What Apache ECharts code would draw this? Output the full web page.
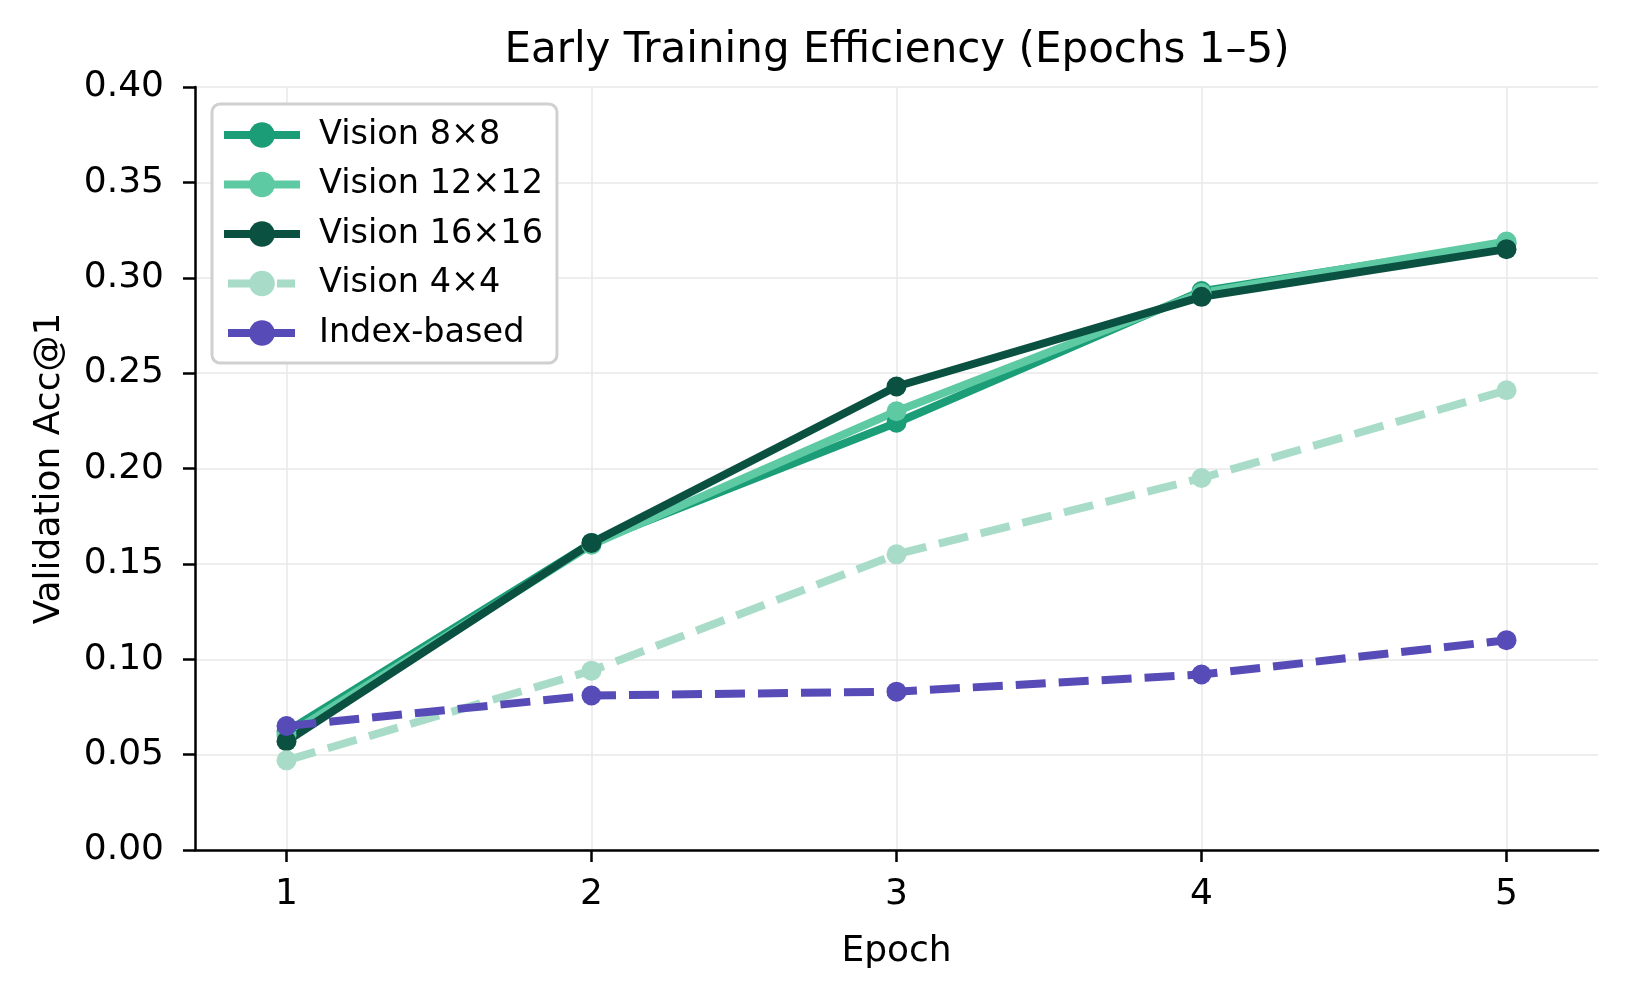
<!DOCTYPE html>
<html>
<head>
<meta charset="utf-8">
<script src="https://cdn.jsdelivr.net/npm/echarts@6/dist/echarts.min.js"></script>
<style>
html,body{margin:0;padding:0;background:#fff;}
#chart{width:1629px;height:998px;}
</style>
</head>
<body>
<div id="chart"></div>
<script>
const epochs = [1, 2, 3, 4, 5];
const vision8 = [0.062, 0.161, 0.224, 0.293, 0.318];
const vision12 = [0.060, 0.160, 0.230, 0.292, 0.319];
const vision16 = [0.057, 0.161, 0.243, 0.290, 0.315];
const vision4 = [0.047, 0.094, 0.155, 0.195, 0.241];
const indexBased = [0.065, 0.081, 0.083, 0.092, 0.110];
const yTicks = [0, 0.05, 0.10, 0.15, 0.20, 0.25, 0.30, 0.35, 0.40];

const FONT = '"DejaVu Sans", sans-serif';
const LW = 8;
const SYM = 20;

function mk(name, vals, color, dashed) {
  return {
    name: name,
    type: 'line',
    data: epochs.map((e, i) => [e, vals[i]]),
    symbol: 'circle',
    symbolSize: SYM,
    showSymbol: true,
    color: color,
    itemStyle: { color: color, borderWidth: 0 },
    lineStyle: { color: color, width: LW, type: dashed ? [30, 13] : 'solid', cap: 'butt', join: 'round' },
    emphasis: { disabled: true },
    animation: false
  };
}

const chart = echarts.init(document.getElementById('chart'), null, { renderer: 'canvas' });
chart.setOption({
  backgroundColor: '#ffffff',
  animation: false,
  textStyle: { fontFamily: FONT },
  title: {
    text: 'Early Training Efficiency (Epochs 1\u20135)',
    left: 897,
    top: 30,
    textAlign: 'center',
    padding: 0,
    textStyle: { fontFamily: FONT, fontSize: 42, fontWeight: 'normal', color: '#000' }
  },
  grid: { left: 195, right: 31, top: 87, bottom: 148, containLabel: false },
  legend: {
    orient: 'vertical',
    left: 212,
    top: 104,
    padding: [13, 14, 12, 8],
    itemWidth: 76,
    itemHeight: 32,
    itemGap: 13.5,
    backgroundColor: '#ffffff',
    borderColor: '#d0d0d0',
    borderWidth: 3,
    borderRadius: 8,
    lineStyle: { width: 8 },
    textStyle: { fontFamily: FONT, fontSize: 33.5, color: '#000', lineHeight: 36, padding: [0, 0, 0, 14] },
    data: [
      'Vision 8\u00d78',
      'Vision 12\u00d712',
      'Vision 16\u00d716',
      { name: 'Vision 4\u00d74', lineStyle: { width: 8, type: [0, 4, 44, 5, 18, 100] } },
      { name: 'Index-based', lineStyle: { width: 8, type: [0, 4, 67, 100] } }
    ]
  },
  xAxis: {
    type: 'value',
    min: 0.7,
    max: 5.3,
    name: 'Epoch',
    nameLocation: 'middle',
    nameGap: 84,
    nameTextStyle: { fontFamily: FONT, fontSize: 36, color: '#000' },
    axisLine: { show: true, onZero: false, lineStyle: { color: '#000', width: 2.5 } },
    axisTick: { show: true, inside: false, length: 12, customValues: epochs, lineStyle: { color: '#000', width: 2.5 } },
    axisLabel: { customValues: epochs, margin: 27, fontFamily: FONT, fontSize: 36, color: '#000', formatter: v => String(v) },
    splitLine: { show: true, lineStyle: { color: '#e8e8e8', width: 1.5 } }
  },
  yAxis: {
    type: 'value',
    min: 0,
    max: 0.4,
    interval: 0.05,
    name: 'Validation Acc@1',
    nameLocation: 'middle',
    nameRotate: 90,
    nameGap: 127,
    nameTextStyle: { fontFamily: FONT, fontSize: 36, color: '#000' },
    axisLine: { show: true, lineStyle: { color: '#000', width: 2.5 } },
    axisTick: { show: true, inside: false, length: 12, lineStyle: { color: '#000', width: 2.5 } },
    axisLabel: { margin: 31, fontFamily: FONT, fontSize: 36, color: '#000', formatter: v => v.toFixed(2) },
    splitLine: { show: true, lineStyle: { color: '#e8e8e8', width: 1.5 } }
  },
  series: [
    mk('Vision 8\u00d78', vision8, '#1b9e77', false),
    mk('Vision 12\u00d712', vision12, '#5ecaa4', false),
    mk('Vision 16\u00d716', vision16, '#0b5142', false),
    mk('Vision 4\u00d74', vision4, '#a8dcc8', true),
    mk('Index-based', indexBased, '#574bb7', true)
  ]
});
</script>
</body>
</html>
